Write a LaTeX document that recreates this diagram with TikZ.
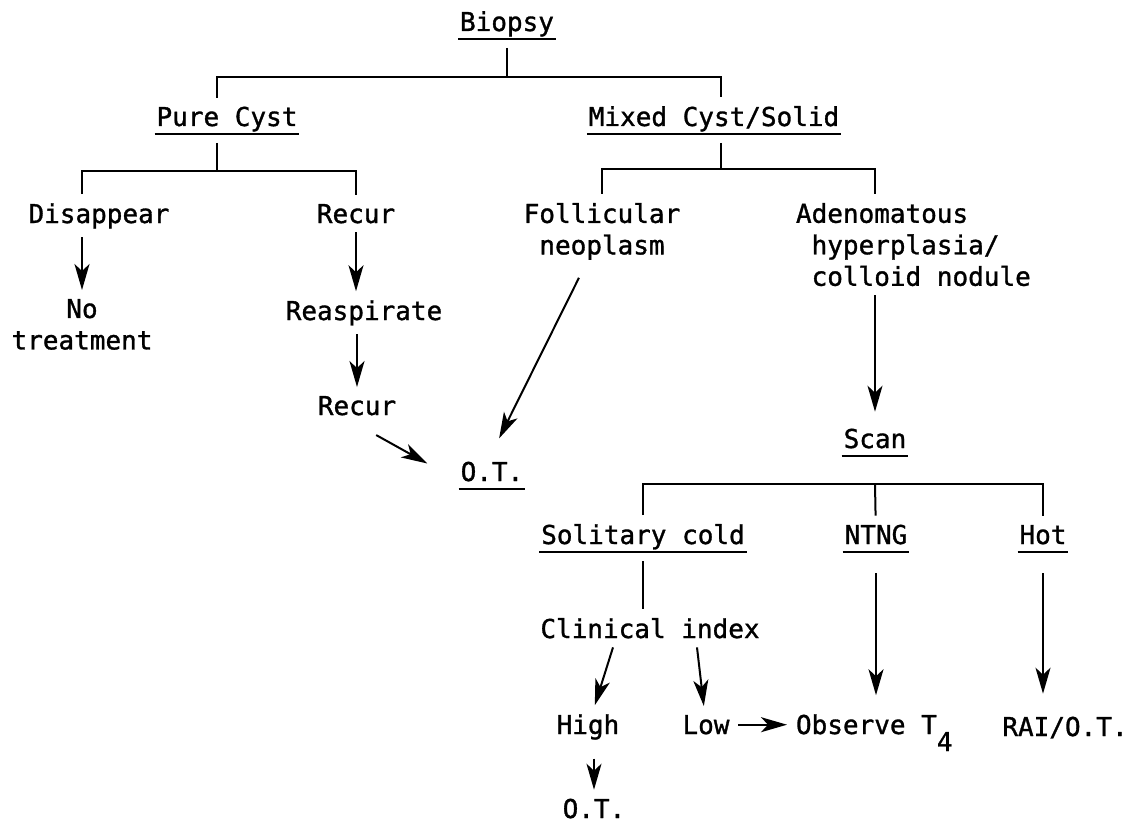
\documentclass[tikz,border=0pt]{standalone}
\usepackage{fontspec}
\setmonofont[FakeBold=1.2]{DejaVu Sans Mono}
\usetikzlibrary{arrows.meta}
\tikzset{every node/.style={anchor=base,inner xsep=2pt,inner ysep=0pt,outer xsep=0pt,outer ysep=9pt}}
\tikzset{u/.style={text depth=8pt,append after command={([yshift=-8pt]\tikzlastnode.base west) edge ([yshift=-8pt]\tikzlastnode.base east)}}}
\tikzset{m/.style={align=center,anchor=north}}
\begin{document}
\begin{tikzpicture}[x=1pt,y=1pt,line width=2pt,font=\ttfamily\fontsize{26}{31.5}\selectfont,
  >={Stealth[length=26pt,width=15pt,inset=7pt]}]
      \useasboundingbox (0,0) rectangle (1136,-832);
      \node[u] (biopsy) at (507,-31) {Biopsy};
      \node[u] (pure) at (227,-126) {Pure Cyst};
      \node[u] (mixed) at (714,-126) {Mixed Cyst/Solid};
      \node (dis) at (99,-223) {Disappear};
      \node (rec1) at (356,-223) {Recur};
      \node[m] (foll) at (602,-194) {Follicular\\neoplasm};
      \node[m,anchor=north west,align=left] (aden) at (794,-194) {Adenomatous\\\hphantom{x}hyperplasia/\\\hphantom{x}colloid nodule};
      \node[m] (notr) at (82,-290) {No\\treatment};
      \node (reasp) at (364,-320) {Reaspirate};
      \node (rec2) at (357,-415) {Recur};
      \node[u] (ot1) at (492,-481) {O.T.};
      \node[u] (scan) at (875,-448) {Scan};
      \node[u] (sol) at (643,-544) {Solitary cold};
      \node[u] (ntng) at (876,-544) {NTNG};
      \node[u] (hot) at (1043,-544) {Hot};
      \node (clin) at (650,-638) {Clinical index};
      \node (high) at (588,-734) {High};
      \node (low) at (706,-734) {Low};
      \node[anchor=base west] (obs) at (794,-734) {Observe T\raisebox{-17pt}{4}};
      \node (rai) at (1065,-736) {RAI/O.T.};
      \node (ot2) at (594,-818) {O.T.};
      \coordinate (b0) at (507,-77);
      \coordinate (p0) at (217,-171);
      \coordinate (m0) at (721,-169);
      \coordinate (s0) at (875,-484);
        \draw (biopsy) -- (b0);
        \draw (pure.north -| p0) |- (b0) -| (mixed.north -| m0);
        \draw (pure.south -| p0) -- (p0);
        \draw (dis.north -| notr) |- (p0) -| (rec1);
        \draw (mixed.south -| m0) -- (m0);
        \draw (foll) |- (m0) -| (aden.north -| scan);
        \draw[->] (dis.south -| notr) -- (notr);
        \draw[->] (rec1) -- (rec1 |- reasp.north);
        \draw[->] (reasp.south -| rec2) -- (rec2);
        \draw[->,shorten <=22pt,shorten >=36pt] (rec2.south) -- (ot1.base west);
        \draw[->,shorten <=10pt,shorten >=16pt] (foll) -- (ot1.north);
        \draw[->,shorten >=8pt] (aden.south -| scan) -- (scan);
        \draw (sol) |- (s0) -| (hot);
        \draw (ntng) -- (s0);
        \draw (sol) -- (sol |- clin.north);
        \draw[->] ([xshift=-37pt]clin.south) -- (high);
        \draw[->] ([xshift=47pt]clin.south) -- (low);
        \draw[->,shorten <=7pt,shorten >=7pt] (low) -- (low -| obs.west);
        \draw[->,shorten <=12pt,shorten >=10pt] (ntng) -- (ntng |- obs.north);
        \draw[->,shorten <=12pt,shorten >=14pt] (hot) -- (hot |- rai.north);
        \draw[->,shorten <=10pt] (high.south -| ot2) -- (ot2);
    \end{tikzpicture}
\end{document}
